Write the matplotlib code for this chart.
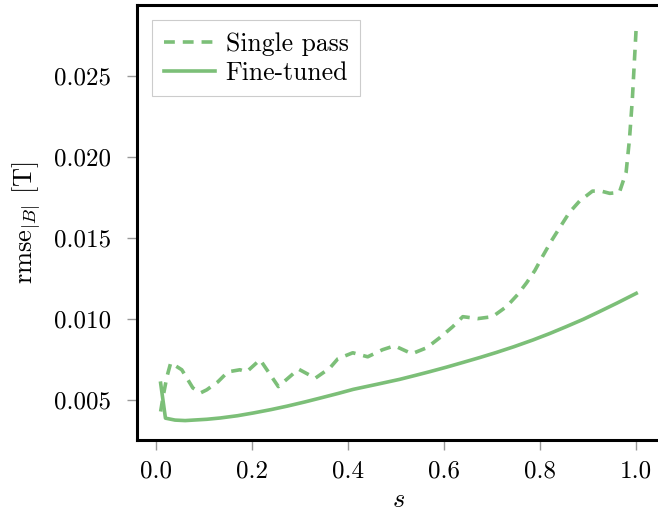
"""Reconstruction error of |B| along s: single pass vs fine-tuned."""

import matplotlib
matplotlib.use("Agg")
import matplotlib.pyplot as plt

# values
s_single = [0.010, 0.015, 0.023, 0.031, 0.054, 0.077, 0.093, 0.106, 0.129,
            0.150, 0.175, 0.189, 0.217, 0.255, 0.297, 0.332, 0.362, 0.379,
            0.410, 0.441, 0.472, 0.497, 0.533, 0.564, 0.591, 0.618, 0.639,
            0.670, 0.701, 0.730, 0.753, 0.772, 0.789, 0.805, 0.823, 0.841,
            0.861, 0.882, 0.909, 0.927, 0.945, 0.965, 0.979, 0.986, 0.992,
            1.000]
rmse_single = [0.00428, 0.00519, 0.00642, 0.00729, 0.00686, 0.00574, 0.00543,
               0.00562, 0.00611, 0.00673, 0.00686, 0.00673, 0.00748, 0.00582,
               0.00690, 0.00634, 0.00696, 0.00754, 0.00791, 0.00766, 0.00810,
               0.00834, 0.00785, 0.00822, 0.00884, 0.00952, 0.01014, 0.01002,
               0.01014, 0.01076, 0.01150, 0.01224, 0.01299, 0.01386, 0.01480,
               0.01565, 0.01658, 0.01728, 0.01790, 0.01790, 0.01776, 0.01782,
               0.01906, 0.02110, 0.02358, 0.02800]

s_tuned = [0.010, 0.020, 0.040, 0.061, 0.106, 0.134, 0.170, 0.203, 0.240,
           0.273, 0.310, 0.342, 0.380, 0.411, 0.460, 0.508, 0.540, 0.570,
           0.605, 0.639, 0.675, 0.709, 0.745, 0.785, 0.820, 0.854, 0.890,
           0.924, 0.960, 1.000]
rmse_tuned = [0.00603, 0.00387, 0.00375, 0.00372, 0.00380, 0.00388, 0.00402,
              0.00419, 0.00440, 0.00461, 0.00487, 0.00511, 0.00540, 0.00565,
              0.00596, 0.00627, 0.00651, 0.00674, 0.00702, 0.00731, 0.00762,
              0.00793, 0.00828, 0.00870, 0.00910, 0.00952, 0.00998, 0.01046,
              0.01098, 0.01158]

y_ticks = [0.005, 0.010, 0.015, 0.020, 0.025]
x_ticks = [0.0, 0.2, 0.4, 0.6, 0.8, 1.0]

GREEN = "#7cbf78"


def main() -> None:
    plt.rcParams["font.family"] = "serif"
    plt.rcParams["font.serif"] = ["cmr10", "DejaVu Serif"]
    plt.rcParams["mathtext.fontset"] = "cm"
    plt.rcParams["axes.formatter.use_mathtext"] = True

    fig = plt.figure(figsize=(6.58, 5.13), dpi=100)
    ax = fig.add_axes([0.208, 0.1423, 0.795, 0.848])

    ax.plot(s_single, rmse_single, color=GREEN, lw=2.6, dashes=(3.0, 2.2),
            label="Single pass")
    ax.plot(s_tuned, rmse_tuned, color=GREEN, lw=2.6, label="Fine-tuned")

    ax.set_ylim(0.00252, 0.0294)
    ax.set_xticks(x_ticks)
    ax.set_xticklabels([f"{v:.1f}" for v in x_ticks])
    ax.set_yticks(y_ticks)
    ax.set_yticklabels([f"{v:.3f}" for v in y_ticks])
    ax.tick_params(labelsize=18, direction="out", length=7.5, width=1,
                   color="#999999", pad=7)
    ax.tick_params(axis="y", pad=11)

    for sp in ax.spines.values():
        sp.set_linewidth(2.2)
        sp.set_color("black")

    ax.set_xlabel(r"$s$", fontsize=19, labelpad=4)
    ax.set_ylabel(r"$\mathrm{rmse}_{|B|}$ [T]", fontsize=19, labelpad=8)

    leg = ax.legend(loc="upper left", fontsize=18.5, fancybox=False,
                    framealpha=1, edgecolor="#cccccc", handlelength=2.0,
                    borderaxespad=0.6, handletextpad=0.4, labelspacing=0.2,
                    borderpad=0.45)
    leg.get_frame().set_linewidth(0.8)

    fig.savefig("out.png", dpi=100)


if __name__ == "__main__":
    main()
